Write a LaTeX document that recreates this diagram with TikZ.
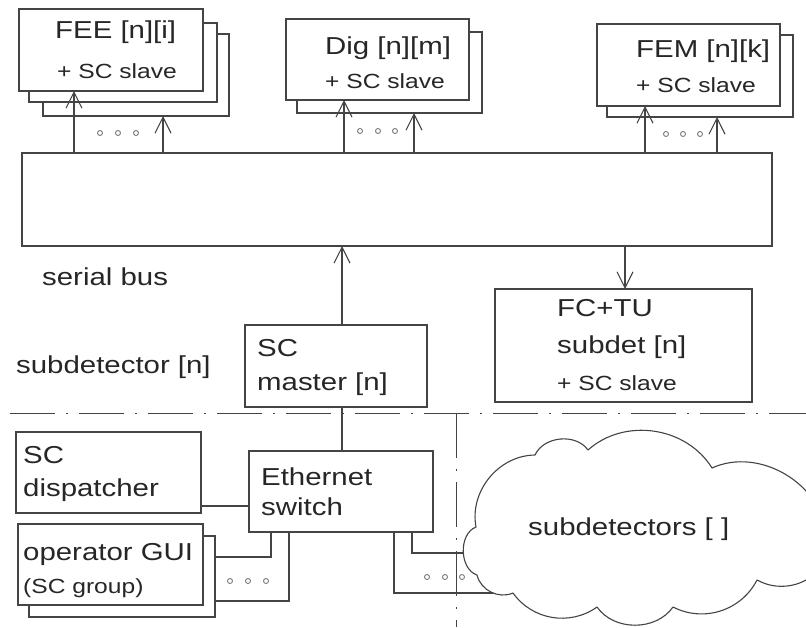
\documentclass[tikz,border=0pt]{standalone}
\usepackage{fontspec}
\setmainfont{Liberation Sans}[FakeStretch=1.2]
\usetikzlibrary{arrows.meta}
\definecolor{ink}{HTML}{444444}
\definecolor{txt}{HTML}{262626}
% box given by its corners (x1,y1) and (x2,y2), y growing downwards
\newcommand\mkbox[5]{\node[box, minimum width={#4-#2}, minimum height={#5-#3}] (#1) at ({(#2+#4)/2},{(#3+#5)/2}) {};}
\begin{document}
\begin{tikzpicture}[x=1pt,y=-1pt,
  box/.style={draw=ink, fill=white, line width=1.1pt, inner sep=0pt, outer sep=0pt},
  wire/.style={draw=ink, line width=1.1pt},
  arr/.style={wire, -{Straight Barb[length=16pt,width=16pt]}},
  sepline/.style={draw=ink, line width=1pt, dash pattern=on 45pt off 11pt on 2pt off 11pt},
  puffline/.style={draw=ink, fill=white, line width=1.1pt, line join=round},
  big/.style={text=txt, font=\fontsize{24.5}{28}\selectfont, anchor=base west, inner sep=0pt},
  small/.style={text=txt, font=\fontsize{20.5}{24}\selectfont, anchor=base west, inner sep=0pt},
  dotmark/.style={circle, draw=ink!70, line width=0.9pt, inner sep=0pt, minimum size=5pt},
]
\useasboundingbox (0,0) rectangle (806,627);
\clip (0,0) rectangle (806,627);
\fill[white] (0,0) rectangle (806,627);

% serial bus
\mkbox{bus}{22}{153}{772}{246}

% front-end stacks
\mkbox{feeC}{43}{34}{229}{116}
\mkbox{feeB}{29}{23}{217}{102}
\mkbox{feeA}{19}{9}{203}{91}
\mkbox{digB}{297}{32}{482}{113}
\mkbox{digA}{286}{19}{469}{100}
\mkbox{femB}{607}{35}{793}{117}
\mkbox{femA}{597}{24}{780}{106}

% subdetector level
\mkbox{master}{245}{325}{427}{407}
\mkbox{fctu}{495}{289}{752}{402}

% central level
\mkbox{disp}{16}{432}{201}{513}
\mkbox{eth}{249}{451}{433}{532}
\mkbox{guiB}{29}{536}{215}{617}
\mkbox{guiA}{18}{524}{203}{605}

% bus to front-end boards
\draw[arr] (74,0 |- bus.north) -- (74,0 |- feeA.south);
\draw[arr] (163,0 |- bus.north) -- (163,0 |- feeC.south);
\draw[arr] (344,0 |- bus.north) -- (344,0 |- digA.south);
\draw[arr] (414,0 |- bus.north) -- (414,0 |- digB.south);
\draw[arr] (645,0 |- bus.north) -- (645,0 |- femA.south);
\draw[arr] (717,0 |- bus.north) -- (717,0 |- femB.south);

% master drives the bus, FC+TU listens
\draw[arr] (342,0 |- master.north) -- (342,0 |- bus.south);
\draw[arr] (625,0 |- bus.south) -- (625,0 |- fctu.north);

% separator between subdetector and central level
\draw[sepline] (10,413) -- (806,413);
\draw[sepline] (456,413) -- (456,627);

% ethernet connections (the far ends run under the cloud)
\coordinate (inA) at (540,553);
\coordinate (inB) at (540,593);
\draw[wire] (342,0 |- master.south) -- (342,0 |- eth.north);
\draw[wire] (disp.east |- 0,506) -- (eth.west |- 0,506);
\draw[wire] (271,0 |- eth.south) -- (271,557) -- (guiB.east |- 0,557);
\draw[wire] (289,0 |- eth.south) -- (289,601) -- (guiB.east |- 0,601);
\draw[wire] (412,0 |- eth.south) -- (412,553) -- (inA);
\draw[wire] (394,0 |- eth.south) -- (394,593) -- (inB);

% other subdetectors: a cloud running off the right edge
\path[puffline] (477,575)
   to[bend left=70] (476,527)
   to[bend left=50] (535,455)
   to[bend left=60] (588,450)
   to[bend left=50] (712,468)
   to[bend left=55] (826,535)
   -- (826,560)
   to[bend left=45] (757,580)
   to[bend left=45] (673,607)
   to[bend left=55] (597,607)
   to[bend left=45] (513,593)
   to[bend left=50] cycle;
\coordinate (cloud) at (650,527);

% ellipsis marks
\foreach \x [count=\i] in {100,118,136} \node[dotmark] (feedot\i) at (\x,133) {};
\foreach \x [count=\i] in {360,378,395} \node[dotmark] (digdot\i) at (\x,131) {};
\foreach \x [count=\i] in {666,683,700} \node[dotmark] (femdot\i) at (\x,134) {};
\foreach \x [count=\i] in {230,248,266} \node[dotmark] (guidot\i) at (\x,581) {};
\foreach \x [count=\i] in {427,445,462} \node[dotmark] (subdot\i) at (\x,577) {};

% labels
\node[big]   (tfee)  at (55,38)  {FEE [n][i]};
\node[small] (tfee2) at (57,78)  {+ SC slave};
\node[big]   (tdig)  at (325,54) {Dig [n][m]};
\node[small] (tdig2) at (325,88) {+ SC slave};
\node[big]   (tfem)  at (636,57) {FEM [n][k]};
\node[small] (tfem2) at (636,92) {+ SC slave};
\node[big]   (tbus)  at (42,285) {serial bus};
\node[big]   (tsub)  at (16,373) {subdetector [n]};
\node[big]   (tm1)   at (257,356) {SC};
\node[big]   (tm2)   at (257,390) {master [n]};
\node[big]   (tf1)   at (557,316) {FC+TU};
\node[big]   (tf2)   at (557,353) {subdet [n]};
\node[small] (tf3)   at (557,390) {+ SC slave};
\node[big]   (td1)   at (23,463) {SC};
\node[big]   (td2)   at (23,496) {dispatcher};
\node[big]   (te1)   at (261,485) {Ethernet};
\node[big]   (te2)   at (261,515) {switch};
\node[big]   (tg1)   at (23,560) {operator GUI};
\node[small] (tg2)   at (23,593) {(SC group)};
\node[big]   (tcl)   at (528,535) {subdetectors [ ]};
\end{tikzpicture}
\end{document}
